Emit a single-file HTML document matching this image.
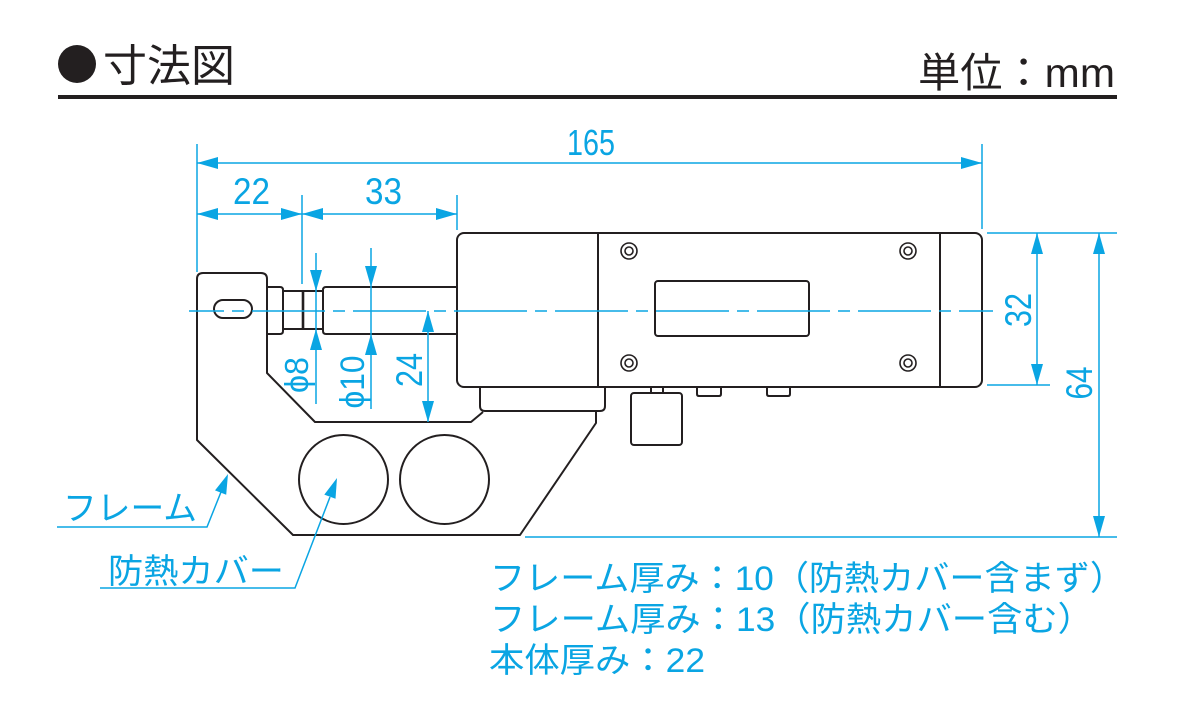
<!DOCTYPE html>
<html>
<head>
<meta charset="utf-8">
<style>
  html,body{margin:0;padding:0;background:#fff;}
  svg{display:block;}
  text{font-family:"Liberation Sans","Noto Sans CJK JP",sans-serif;}
</style>
</head>
<body>
<svg width="1180" height="720" viewBox="0 0 1180 720" xmlns="http://www.w3.org/2000/svg">
  <rect width="1180" height="720" fill="#fff"/>

  <!-- Header -->
  <circle cx="77" cy="64" r="19" fill="#231f20"/>
  <text x="103" y="81" font-size="44" fill="#231f20" textLength="132" lengthAdjust="spacingAndGlyphs">寸法図</text>
  <text x="918" y="87" font-size="41" fill="#231f20" textLength="197" lengthAdjust="spacingAndGlyphs">単位：mm</text>
  <rect x="58" y="95" width="1059" height="4" fill="#231f20"/>

  <!-- Black drawing -->
  <g fill="none" stroke="#231f20" stroke-width="2" stroke-linejoin="round">
    <!-- body -->
    <rect x="457" y="233" width="525" height="154" rx="7"/>
    <line x1="598" y1="233" x2="598" y2="387"/>
    <line x1="940" y1="233" x2="940" y2="387"/>
    <rect x="655" y="281" width="154" height="55" rx="3"/>
    <circle cx="629" cy="251" r="8" stroke-width="1.6"/><circle cx="629" cy="251" r="4" stroke-width="1.6"/>
    <circle cx="908" cy="251" r="8" stroke-width="1.6"/><circle cx="908" cy="251" r="4" stroke-width="1.6"/>
    <circle cx="629" cy="363" r="8" stroke-width="1.6"/><circle cx="629" cy="363" r="4" stroke-width="1.6"/>
    <circle cx="908" cy="363" r="8" stroke-width="1.6"/><circle cx="908" cy="363" r="4" stroke-width="1.6"/>
    <!-- under-body parts -->
    <path d="M480,387 V406 Q480,411 485,411 H600 Q605,411 605,406 V387"/>
    <line x1="651" y1="387" x2="651" y2="393"/>
    <line x1="663" y1="387" x2="663" y2="393"/>
    <rect x="631" y="393" width="51" height="52" rx="3"/>
    <path d="M697,387 V394 Q697,396 699,396 H719 Q721,396 721,394 V387"/>
    <path d="M767,387 V394 Q767,396 769,396 H788 Q790,396 790,394 V387"/>
    <!-- frame -->
    <path d="M596,411 V423 L520,535 H293 L197,440 V279 Q197,273 203,273 H261 Q267,273 267,279 V373 L315,422 H471 L483,412"/>
    <rect x="214" y="300" width="38" height="18" rx="9"/>
    <!-- anvil / spindle -->
    <path d="M267,287 H280 Q283,287 283,290 V331 Q283,334 280,334 H267"/>
    <path d="M283,291 H323 M283,329 H323"/>
    <line x1="303" y1="291" x2="303" y2="329" stroke-width="2.6"/>
    <path d="M457,287 H326 Q323,287 323,290 V331 Q323,334 326,334 H457"/>
    <!-- heat covers -->
    <circle cx="343.5" cy="479.5" r="44.5"/>
    <circle cx="444.5" cy="479.5" r="44.5"/>
  </g>

  <!-- Blue dimensions -->
  <g stroke="#0aa5e3" stroke-width="1.5" fill="none">
    <line x1="189" y1="311" x2="993" y2="311" stroke-dasharray="73 8 12 8" stroke-dashoffset="38"/>
    <!-- extension lines -->
    <line x1="197" y1="144" x2="197" y2="272"/>
    <line x1="982" y1="144" x2="982" y2="229"/>
    <line x1="302" y1="195" x2="302" y2="284"/>
    <line x1="457" y1="195" x2="457" y2="230"/>
    <line x1="987" y1="233" x2="1117" y2="233"/>
    <line x1="987" y1="385" x2="1050" y2="385"/>
    <line x1="525" y1="537" x2="1117" y2="537"/>
    <!-- dimension lines -->
    <line x1="197" y1="163" x2="982" y2="163"/>
    <line x1="197" y1="214" x2="457" y2="214"/>
    <line x1="316" y1="253" x2="316" y2="404"/>
    <line x1="371" y1="248" x2="371" y2="409"/>
    <line x1="428" y1="311" x2="428" y2="422"/>
    <line x1="1037" y1="233" x2="1037" y2="385"/>
    <line x1="1099" y1="233" x2="1099" y2="537"/>
    <!-- leaders -->
    <polyline points="57,527 207,527 221,492"/>
    <polyline points="100,588 295,588 330,497"/>
  </g>
  <g fill="#0aa5e3">
    <polygon points="197,163 218,157 218,169"/>
    <polygon points="982,163 961,157 961,169"/>
    <polygon points="197,214 218,208 218,220"/>
    <polygon points="302,214 281,208 281,220"/>
    <polygon points="302,214 323,208 323,220"/>
    <polygon points="457,214 436,208 436,220"/>
    <polygon points="316,291 310,270 322,270"/>
    <polygon points="316,329 310,350 322,350"/>
    <polygon points="371,287 365,266 377,266"/>
    <polygon points="371,334 365,355 377,355"/>
    <polygon points="428,311 422,332 434,332"/>
    <polygon points="428,422 422,401 434,401"/>
    <polygon points="1037,233 1031,254 1043,254"/>
    <polygon points="1037,385 1031,364 1043,364"/>
    <polygon points="1099,233 1093,254 1105,254"/>
    <polygon points="1099,537 1093,516 1105,516"/>
    <polygon points="228,474 226.2,494.8 215,490.4"/>
    <polygon points="337,478 335.5,498.8 324.3,494.6"/>

    <!-- dimension texts -->
    <text x="567" y="155" font-size="36" textLength="48" lengthAdjust="spacingAndGlyphs">165</text>
    <text x="233" y="204" font-size="37" textLength="37" lengthAdjust="spacingAndGlyphs">22</text>
    <text x="365" y="204" font-size="37" textLength="37" lengthAdjust="spacingAndGlyphs">33</text>
    <text transform="translate(308,375) rotate(-90)" text-anchor="middle" font-size="33" textLength="36" lengthAdjust="spacingAndGlyphs">ϕ8</text>
    <text transform="translate(364,382) rotate(-90)" text-anchor="middle" font-size="34" textLength="53" lengthAdjust="spacingAndGlyphs">ϕ10</text>
    <text transform="translate(422,370) rotate(-90)" text-anchor="middle" font-size="37" textLength="34" lengthAdjust="spacingAndGlyphs">24</text>
    <text transform="translate(1031,310) rotate(-90)" text-anchor="middle" font-size="37" textLength="34" lengthAdjust="spacingAndGlyphs">32</text>
    <text transform="translate(1092,383) rotate(-90)" text-anchor="middle" font-size="37" textLength="33" lengthAdjust="spacingAndGlyphs">64</text>

    <!-- labels -->
    <text x="63" y="520" font-size="34" textLength="134" lengthAdjust="spacingAndGlyphs">フレーム</text>
    <text x="108" y="583" font-size="34" textLength="176" lengthAdjust="spacingAndGlyphs">防熱カバー</text>

    <text x="490" y="590" font-size="34" textLength="635" lengthAdjust="spacingAndGlyphs">フレーム厚み：10（防熱カバー含まず）</text>
    <text x="490" y="631" font-size="34" textLength="603" lengthAdjust="spacingAndGlyphs">フレーム厚み：13（防熱カバー含む）</text>
    <text x="489" y="672" font-size="34" textLength="216" lengthAdjust="spacingAndGlyphs">本体厚み：22</text>
  </g>
</svg>
</body>
</html>
